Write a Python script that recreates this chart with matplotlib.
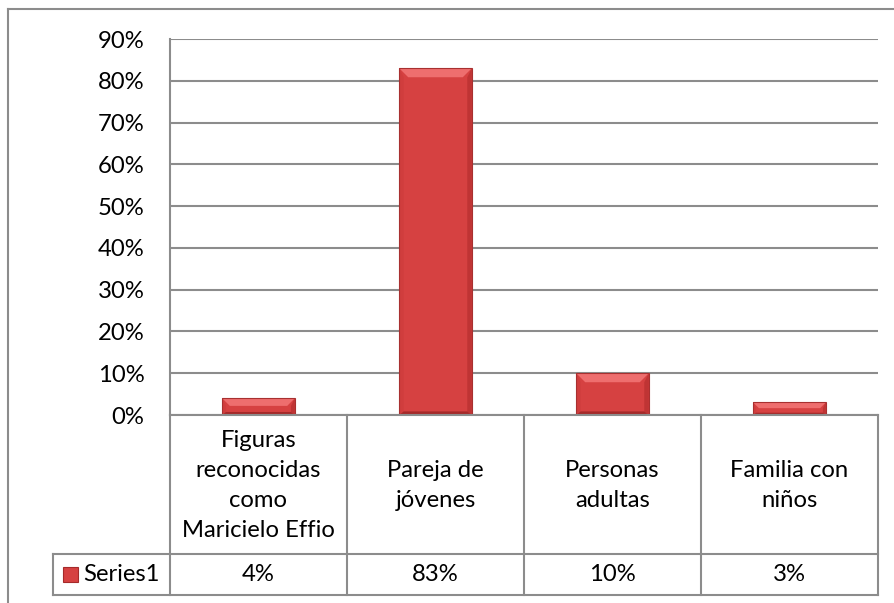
import matplotlib
matplotlib.use("Agg")
import matplotlib.pyplot as plt
from matplotlib.patches import Polygon, Rectangle
from matplotlib.lines import Line2D
from matplotlib.transforms import IdentityTransform

categories = ["Figuras\nreconocidas\ncomo\nMaricielo Effio", "Pareja de\njóvenes",
              "Personas\nadultas", "Familia con\nniños"]
values = [0.04, 0.83, 0.10, 0.03]
value_labels = ["4%", "83%", "10%", "3%"]
series_name = "Series1"
yticks = [0, 0.1, 0.2, 0.3, 0.4, 0.5, 0.6, 0.7, 0.8, 0.9]
ytick_labels = ["0%", "10%", "20%", "30%", "40%", "50%", "60%", "70%", "80%", "90%"]

plt.rcParams['font.family'] = ['Lato', 'DejaVu Sans']
W, H = 895, 603
fig = plt.figure(figsize=(W / 100, H / 100), dpi=100)

def fx(px):
    return px / W

def fy(py):
    return 1 - py / H

GRID = "#8c8c8c"
FS = 17.2

# plot area in pixels
L, R, T, B = 170, 878, 39, 415
ax = fig.add_axes([fx(L), fy(B), fx(R) - fx(L), fy(T) - fy(B)])
ax.set_xlim(-0.5, len(categories) - 0.5)
ax.set_ylim(0, 0.9)
ax.set_yticks(yticks)
ax.set_yticklabels(ytick_labels, fontsize=FS)
ax.tick_params(axis='y', length=0, pad=18.5)
ax.set_xticks([])
for s in ["top", "right", "bottom"]:
    ax.spines[s].set_visible(False)
ax.spines["left"].set_color(GRID)
ax.spines["left"].set_linewidth(1.5)
ax.yaxis.grid(True, color=GRID, linewidth=1.5)
ax.set_axisbelow(True)

FACE = "#d64141"
bars = ax.bar(range(len(values)), values, width=0.41, color=FACE, edgecolor="none", zorder=3)

fig.canvas.draw()
ident = IdentityTransform()
for rect in bars:
    x0, y0 = ax.transData.transform((rect.get_x(), 0))
    x1, y1 = ax.transData.transform((rect.get_x() + rect.get_width(), rect.get_height()))
    h = y1 - y0
    b = min(9, h / 2.2)
    # shadow
    ax.add_patch(Rectangle((x0 + 1, y0 - 2), x1 - x0, h, transform=ident,
                           facecolor="#bbbbbb", alpha=0.5, zorder=2.5, edgecolor="none"))
    # top bevel (light)
    ax.add_patch(Polygon([(x0, y1), (x1, y1), (x1 - b, y1 - b), (x0 + b, y1 - b)],
                         closed=True, transform=ident, facecolor="#ee6e6e", edgecolor="none", zorder=4))
    # left bevel
    ax.add_patch(Polygon([(x0, y1), (x0 + b * 0.5, y1 - b), (x0 + b * 0.5, y0 + b * 0.4), (x0, y0)],
                         closed=True, transform=ident, facecolor="#d03d3d", edgecolor="none", zorder=4))
    # right bevel (dark)
    ax.add_patch(Polygon([(x1, y1), (x1 - b * 0.5, y1 - b), (x1 - b * 0.5, y0 + b * 0.4), (x1, y0)],
                         closed=True, transform=ident, facecolor="#bf3434", edgecolor="none", zorder=4))
    # bottom bevel (dark)
    ax.add_patch(Polygon([(x0, y0), (x1, y0), (x1 - b * 0.5, y0 + b * 0.4), (x0 + b * 0.5, y0 + b * 0.4)],
                         closed=True, transform=ident, facecolor="#a52a2a", edgecolor="none", zorder=4))
    # outline
    ax.add_patch(Rectangle((x0, y0), x1 - x0, h, transform=ident, facecolor="none",
                           edgecolor="#a83030", linewidth=0.8, zorder=5))

# data table
cols = [170, 347, 524, 701, 878]
row_top, row_mid, row_bot = 415, 554, 595
legend_left = 53

def hline(x0, x1, y):
    fig.add_artist(Line2D([fx(x0), fx(x1)], [fy(y), fy(y)], color=GRID, linewidth=1.5))

def vline(x, y0, y1):
    fig.add_artist(Line2D([fx(x), fx(x)], [fy(y0), fy(y1)], color=GRID, linewidth=1.5))

hline(cols[0], cols[-1], row_top)
hline(legend_left, cols[-1], row_mid)
hline(legend_left, cols[-1], row_bot)
for c in cols:
    vline(c, row_top, row_bot)
vline(legend_left, row_mid, row_bot)

for i, cat in enumerate(categories):
    cx = (cols[i] + cols[i + 1]) / 2
    fig.text(fx(cx), fy((row_top + row_mid) / 2 + 1), cat, ha="center", va="center",
             fontsize=FS, linespacing=1.52)
    fig.text(fx(cx), fy((row_mid + row_bot) / 2), value_labels[i], ha="center", va="center",
             fontsize=FS)

# legend key in table
kx0, ky0, kx1, ky1 = 63, 567, 78, 582
fig.add_artist(Rectangle((fx(kx0), fy(ky1)), fx(kx1) - fx(kx0), fy(ky0) - fy(ky1),
                         facecolor=FACE, edgecolor="#a52a2a", linewidth=0.8))
fig.text(fx(83), fy((row_mid + row_bot) / 2), series_name, ha="left", va="center", fontsize=FS)

# outer chart border
fig.add_artist(Line2D([fx(8), fx(8)], [fy(9), fy(H + 5)], color=GRID, linewidth=1.5))
fig.add_artist(Line2D([fx(8), fx(W + 5)], [fy(9), fy(9)], color=GRID, linewidth=1.5))

fig.savefig("out.png", dpi=100)
